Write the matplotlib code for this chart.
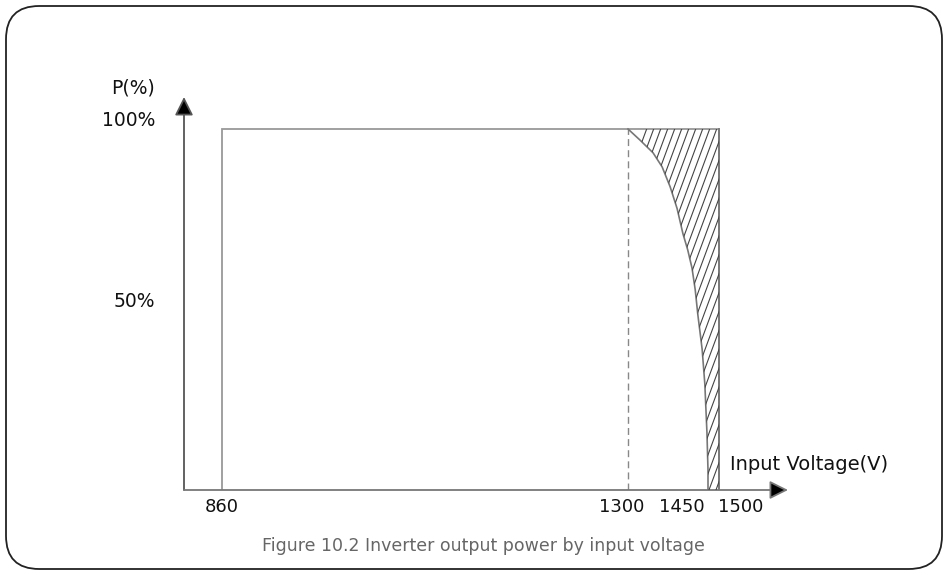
import numpy as np
import matplotlib
matplotlib.use("Agg")
import matplotlib.pyplot as plt
from matplotlib.patches import FancyBboxPatch
from matplotlib.collections import LineCollection
from matplotlib.scale import FuncScale

# --------------------------------------------------------------------------
# Data
# --------------------------------------------------------------------------
VOLT_TICKS = [860, 1300, 1450, 1500]
VOLT_LABELS = ["860", "1300", "1450", "1500"]
POWER_TICKS = [100, 50]
POWER_LABELS = ["100%", "50%"]

# derating curve from 1300 V / 100 % down to 1450 V / 0 %
CURVE_V = [1300, 1322, 1347, 1364, 1379, 1392, 1403, 1412, 1420, 1426,
           1431, 1439, 1444, 1448, 1450, 1450]
CURVE_P = [100, 97, 93.4, 89.5, 84, 78, 71, 66.5, 61.5, 55.5,
           48.5, 39, 29.5, 16, 5.5, 0]

V_MIN, V_MAX = 860, 1500
V_DERATE = 1300
P_MAX = 100

CAPTION = "Figure 10.2 Inverter output power by input voltage"

# schematic (non-linear) voltage axis: volts -> diagram position
V_KNOTS = [800, 860, 1300, 1450, 1500, 1600]
POS_KNOTS = [0, 38, 444, 524, 535, 604]


def fwd(v):
    return np.interp(v, V_KNOTS, POS_KNOTS)


def inv(p):
    return np.interp(p, POS_KNOTS, V_KNOTS)


W, H = 948, 575
fig = plt.figure(figsize=(W / 100, H / 100), dpi=100)
plt.rcParams["font.family"] = ["DejaVu Sans"]

# rounded frame
fig.patches.append(FancyBboxPatch((6 / W, 6 / H), 936 / W, 563 / H,
                                  boxstyle="round,pad=0,rounding_size=0.035",
                                  transform=fig.transFigure, fill=False,
                                  edgecolor="#222222", linewidth=1.3,
                                  mutation_aspect=W / H))

ax = fig.add_axes([184 / W, (H - 490) / H, 604 / W, 393 / H])
ax.set_xscale(FuncScale(ax, (fwd, inv)))
ax.set_xlim(V_KNOTS[0], V_KNOTS[-1])
ax.set_ylim(0, P_MAX * 393 / 361)
ax.axis("off")

# axes with arrow heads
arrow = dict(arrowstyle="-|>", color="#111111", lw=1.3, mutation_scale=28,
             shrinkA=0, shrinkB=0)
ax.annotate("", xy=(0, 1), xytext=(0, 0), xycoords="axes fraction",
            arrowprops=dict(arrow, color="#555555", fc="black"))
ax.annotate("", xy=(1, 0), xytext=(0, 0), xycoords="axes fraction",
            arrowprops=dict(arrow, color="#777777", fc="black"))

# operating window
ax.plot([V_MIN, V_MIN, V_MAX, V_MAX], [0, P_MAX, P_MAX, 0],
        color="#999999", lw=1.3, solid_joinstyle="miter")
ax.plot([V_MAX, V_MAX], [0, P_MAX], color="#777777", lw=1.3)
ax.plot([V_DERATE, V_DERATE], [0, P_MAX], color="#888888", lw=1.0,
        linestyle=(0, (5, 3)))

# derating curve + hatched region
ax.plot(CURVE_V, CURVE_P, color="#777777", lw=1.2)
region = ax.fill_betweenx(CURVE_P, CURVE_V, V_MAX, facecolor="none",
                          edgecolor="none")
clip = region.get_paths()[0]

# steep hatch lines drawn in inch space, clipped to the region
segs = []
for x0 in np.arange(5.0, 7.6, 0.07):
    segs.append([(x0, 0.5), (x0 + 1.6, 0.5 + 1.6 * 2.7)])
hatch = LineCollection(segs, colors="#444444", linewidths=0.8,
                       transform=fig.dpi_scale_trans)
fig.add_artist(hatch)
hatch.set_clip_path(clip, ax.transData)

# tick labels
x_off = {860: 0, 1300: -6, 1450: -26, 1500: 22}
for v, lab in zip(VOLT_TICKS, VOLT_LABELS):
    ax.annotate(lab, xy=(v, 0), xytext=(x_off[v], -8), textcoords="offset pixels",
                ha="center", va="top", fontsize=13, color="#111111")
for p, lab in zip(POWER_TICKS, POWER_LABELS):
    ax.annotate(lab, xy=(0, p), xycoords=("axes fraction", "data"),
                xytext=(-29, 8), textcoords="offset pixels",
                ha="right", va="center", fontsize=13.5, color="#111111")

ax.annotate("P(%)", xy=(0, 1), xycoords="axes fraction",
            xytext=(-29, 9), textcoords="offset pixels",
            ha="right", va="center", fontsize=13.5, color="#111111")
ax.annotate("Input Voltage(V)", xy=(1, 0), xycoords="axes fraction",
            xytext=(-58, 16), textcoords="offset pixels",
            ha="left", va="bottom", fontsize=14, color="#111111")

fig.text(483 / W, 1 - 546 / H, CAPTION, ha="center", va="center",
         fontsize=12.5, color="#666666")

fig.savefig("out.png", dpi=100)
